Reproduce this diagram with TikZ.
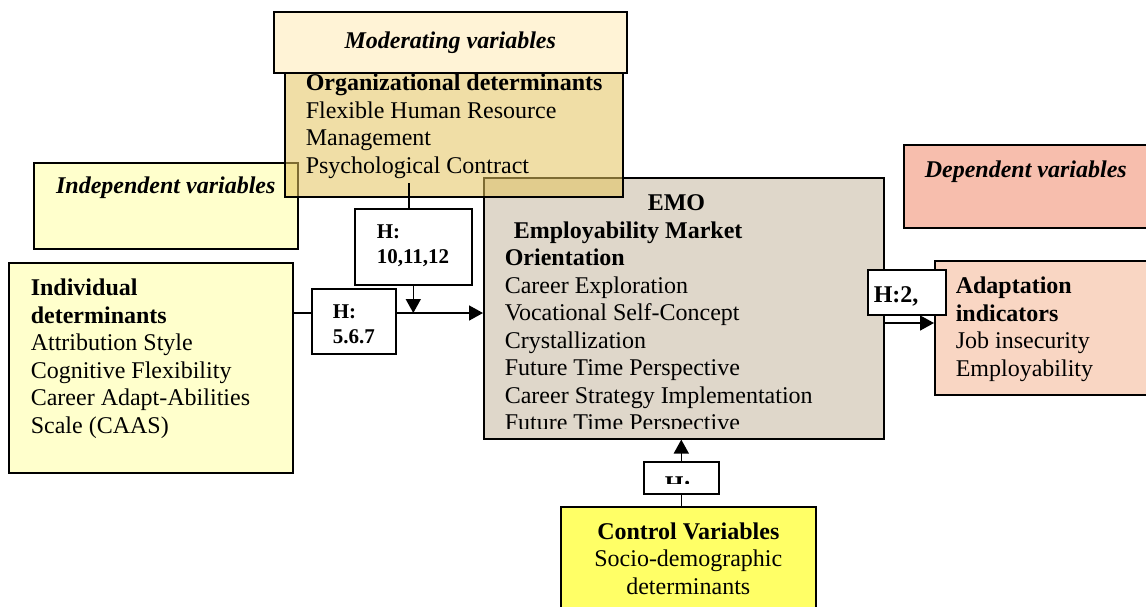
\documentclass[tikz,border=0pt]{standalone}
\usepackage{fontspec}
\setmainfont{Liberation Serif}
\usetikzlibrary{arrows.meta,positioning}

\definecolor{modcream}{HTML}{FFF3D6}
\definecolor{orgtan}{HTML}{E4C35C}
\definecolor{paleyellow}{HTML}{FFFFCC}
\definecolor{emogrey}{HTML}{DFD7CA}
\definecolor{salmon}{HTML}{F7BEAD}
\definecolor{peach}{HTML}{F9D6C3}
\definecolor{ctrlyellow}{HTML}{FFFF66}

\begin{document}
\begin{tikzpicture}[
    x=0.5pt, y=-0.5pt,
    thick,
    varbox/.style={rectangle, draw=black, line width=0.8pt, anchor=north west, inner sep=0pt},
    hbox/.style={varbox, fill=white},
    txt/.style={inner sep=0pt, align=left, font=\fontsize{12}{13.75}\selectfont},
    hyp/.style={inner sep=0pt, align=left, font=\fontsize{10.5}{12.5}\selectfont\bfseries},
    head/.style={inner sep=0pt, font=\fontsize{12}{13.75}\selectfont\bfseries\itshape},
    link/.style={line width=0.8pt},
    arrow/.style={line width=0.8pt, -{Triangle[length=7pt,width=7.5pt]}}
]
\useasboundingbox (0,0) rectangle (1146,606);
\clip (0,0) rectangle (1146,606);

% Variable boxes
\node[varbox, fill=paleyellow, minimum width=132pt, minimum height=43pt] (indep) at (33,162) {};
\node[varbox, fill=salmon, minimum width=130pt, minimum height=41.5pt] (depend) at (903,144) {};
\node[varbox, fill=emogrey, minimum width=200pt, minimum height=130.5pt] (emo) at (483,177) {};
\node[varbox, fill=paleyellow, minimum width=142pt, minimum height=105pt] (indiv) at (8,262) {};
\node[varbox, fill=peach, minimum width=115pt, minimum height=67pt] (adapt) at (934,260) {};
\node[varbox, fill=ctrlyellow, minimum width=127.5pt, minimum height=60pt] (control) at (560,506) {};
\node[varbox, fill=orgtan, fill opacity=0.55, minimum width=169pt, minimum height=63pt] (org) at (284,70) {};
\node[varbox, fill=modcream, minimum width=176.5pt, minimum height=30.5pt] (moder) at (273,11) {};

% Hypothesis boxes
\node[hbox, minimum width=58.5pt, minimum height=38pt] (h10) at (354,208) {};
\node[hbox, minimum width=42pt, minimum height=32.5pt] (h567) at (311,288) {};
\node[hbox, minimum width=39pt, minimum height=22.5pt] (h2) at (867,269) {};
\node[hbox, minimum width=37.5pt, minimum height=16pt] (hctrl) at (643,461) {};

% Headings
\node[head] (modertext) at (moder) {Moderating variables};
\node[head, anchor=base] (indeptext) at ([yshift=-15.5pt]indep.north) {Independent variables};
\node[head, anchor=base west] (dependtext) at ([xshift=10.5pt,yshift=-16.5pt]depend.north west) {Dependent variables};

% Box texts
\node[txt, anchor=north west] (orgtext) at (305,70.75) {\strut\textbf{Organizational determinants}\\Flexible Human Resource\\Management\\Psychological Contract};
\node[txt, below right=6.875pt and 11pt of indiv.north west] (indivtext) {\strut\textbf{Individual}\\\textbf{determinants}\\Attribution Style\\Cognitive Flexibility\\Career Adapt-Abilities\\Scale (CAAS)};
\node[txt, below right=6.875pt and 10.5pt of adapt.north west] (adapttext) {\strut\textbf{Adaptation}\\\textbf{indicators}\\Job insecurity\\Employability};
\node[txt, align=center, below=6.5pt of control.north] (controltext) {\strut\textbf{Control Variables}\\Socio-demographic\\determinants};
\begin{scope}
\clip (emo.north west) rectangle ([yshift=5.5pt]emo.south east);
\node[txt, below right=6.875pt and 10.5pt of emo.north west] (emotext) {\strut\hspace*{71.5pt}\textbf{EMO}\\\hspace*{4.5pt}\textbf{Employability Market}\\\textbf{Orientation}\\Career Exploration\\Vocational Self-Concept\\Crystallization\\Future Time Perspective\\Career Strategy Implementation\\Future Time Perspective};
\end{scope}

% Hypothesis labels
\node[hyp, below right=6.25pt and 11pt of h10.north west] (h10text) {\strut H:\\10,11,12};
\node[hyp, below right=6.25pt and 10.5pt of h567.north west] (h567text) {\strut H:\\5.6.7};
\node[txt, font=\fontsize{12}{13.75}\selectfont\bfseries, anchor=base west] (h2text) at ([xshift=3pt,yshift=-16.5pt]h2.north west) {H:2,};
\begin{scope}
\clip (hctrl.north west) rectangle ([yshift=5.5pt]hctrl.south east);
\node[txt, font=\fontsize{12}{13.75}\selectfont\bfseries, anchor=base west] (hctrltext) at ([xshift=10.5pt,yshift=-15.5pt]hctrl.north west) {H:};
\end{scope}

% Arrows
\coordinate (mainline) at (0,313);
\coordinate (outline) at (0,323);
\coordinate (orgtap) at (409,183);
\draw[link] (orgtap) -- (orgtap |- h10.north);
\draw[arrow] (h10.south) -- (h10.south |- mainline);
\draw[link] (indiv.east |- mainline) -- (h567.west |- mainline);
\draw[arrow] (h567.east |- mainline) -- (emo.west |- mainline);
\draw[arrow] (emo.east |- outline) -- (adapt.west |- outline);
\draw[link] (control.north -| hctrl.south) -- (hctrl.south);
\draw[arrow] (hctrl.north) -- (hctrl.north |- emo.south);
\end{tikzpicture}
\end{document}
